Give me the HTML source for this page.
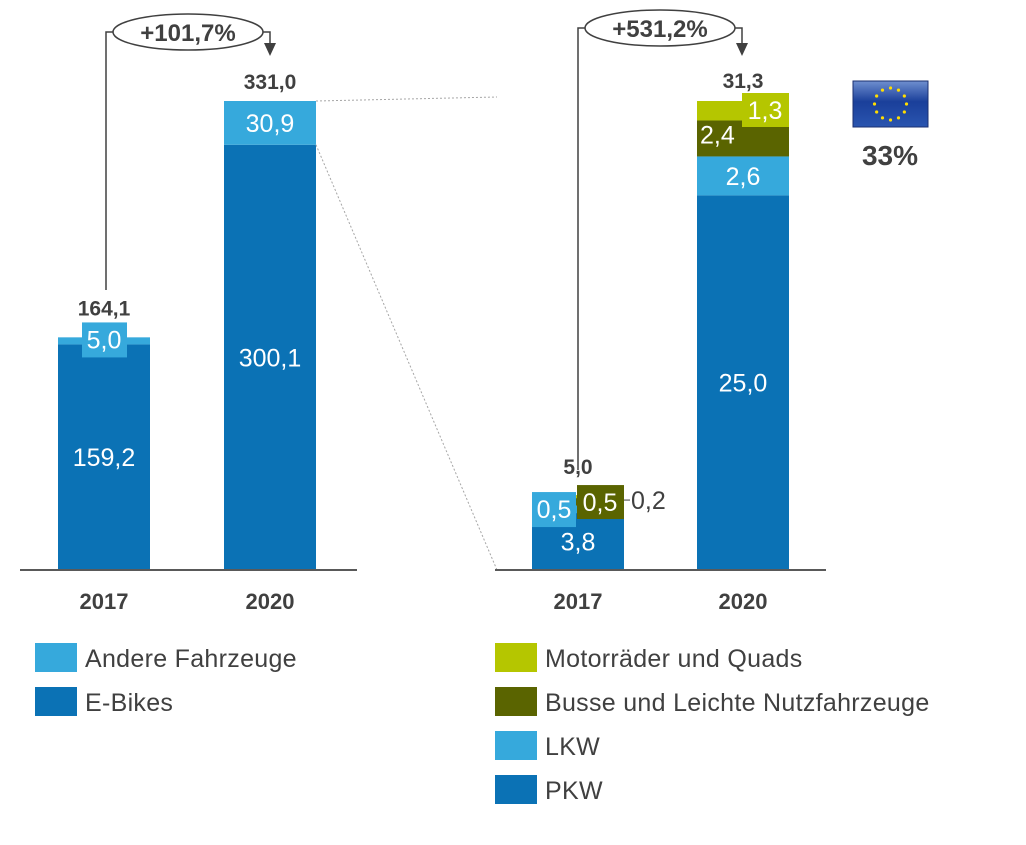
<!DOCTYPE html>
<html><head><meta charset="utf-8"><style>
body{margin:0;background:#fff;}
svg text{font-family:"Liberation Sans",sans-serif;}
</style></head><body>
<svg width="1026" height="840" xmlns="http://www.w3.org/2000/svg">
<defs>
<linearGradient id="flag" x1="0" y1="0" x2="0" y2="1"><stop offset="0" stop-color="#6f8fcf"/><stop offset="0.45" stop-color="#1a3f9a"/><stop offset="1" stop-color="#2a55b0"/></linearGradient>
</defs>
<g id="root"></g>
</svg>
<script>
const leftCats=['2017','2020'];
const leftEbikes=[159.2,300.1];
const leftOther=[5.0,30.9];
const leftTotals=['164,1','331,0'];
const rightCats=['2017','2020'];
const rightPKW=[3.8,25.0];
const rightLKW=[0.5,2.6];
const rightBusse=[0.5,2.4];
const rightMotor=[0.2,1.3];
const rightTotals=['5,0','31,3'];
const NS='http://www.w3.org/2000/svg';
const root=document.getElementById('root');
function mk(tag,attrs,parent){const e=document.createElementNS(NS,tag);for(const k in attrs)e.setAttribute(k,attrs[k]);(parent||root).appendChild(e);return e;}
function txt(s,x,y,size,fill,weight,anchor,name){const t=mk('text',{x:x,y:y,'font-size':size,fill:fill,'font-weight':weight||'normal','text-anchor':anchor||'middle'});t.textContent=s;


return t;}
const fmt=v=>v.toFixed(1).replace('.',',');
const C={eb:'#0b72b5',lb:'#36a9dc',ol:'#5a6400',yg:'#b5c600',tx:'#404040'};
const VS=25, TS=21, CS=22;
const base=570;
// left chart
const lMax=331.0, lScale=469/lMax;
const ly=v=>base-v*lScale;
const lX=[58,224], bw=92;
leftCats.forEach((c,i)=>{
 const x=lX[i];
 let r=mk('rect',{x:x,y:ly(leftEbikes[i]),width:bw,height:base-ly(leftEbikes[i]),fill:C.eb});
 
 
 const top=leftEbikes[i]+leftOther[i];
 r=mk('rect',{x:x,y:ly(top),width:bw,height:ly(leftEbikes[i])-ly(top),fill:C.lb});
 
 
 const segH=ly(leftEbikes[i])-ly(top);
 let totOff=12;
 if(segH<30){const b=mk('rect',{x:x+24,y:ly(leftEbikes[i])-22,width:45,height:35,fill:C.lb});
  
  
  txt(fmt(leftOther[i]),x+bw/2,ly(leftEbikes[i])+4,VS,'#fff','normal','middle','value-other-'+c);
  totOff=22;
 } else txt(fmt(leftOther[i]),x+bw/2,(ly(top)+ly(leftEbikes[i]))/2+9,VS,'#fff','normal','middle','value-other-'+c);
 txt(fmt(leftEbikes[i]),x+bw/2,(ly(leftEbikes[i])+base)/2+9,VS,'#fff','normal','middle','value-ebikes-'+c);
 txt(leftTotals[i],x+bw/2,ly(top)-totOff,TS,C.tx,'bold','middle','total-'+c);
 txt(c,x+bw/2,609,CS,C.tx,'bold','middle','category-'+c);
});
let a=mk('line',{x1:20,y1:base,x2:357,y2:base,stroke:'#595959','stroke-width':2});


mk('line',{x1:316,y1:ly(lMax),x2:497,y2:97,stroke:'#a6a6a6','stroke-width':1,'stroke-dasharray':'2,2'});
mk('line',{x1:316,y1:ly(leftEbikes[1]),x2:497,y2:570,stroke:'#a6a6a6','stroke-width':1,'stroke-dasharray':'2,2'});
// right chart
const rMax=31.3, rScale=469/rMax;
const ry=v=>base-v*rScale;
const rX=[532,697];
rightCats.forEach((c,i)=>{
 const x=rX[i];
 const segs=[[rightPKW[i],C.eb,'pkw'],[rightLKW[i],C.lb,'lkw'],[rightBusse[i],C.ol,'busse'],[rightMotor[i],C.yg,'motor']];
 let acc=0;const tops=[];
 segs.forEach(s=>{const y0=ry(acc),y1=ry(acc+s[0]);
  const r=mk('rect',{x:x,y:y1,width:bw,height:y0-y1,fill:s[1]});
  
  
  tops.push([y0,y1]);acc+=s[0];});
 txt(fmt(rightPKW[i]),x+bw/2,(tops[0][0]+tops[0][1])/2+9,VS,'#fff','normal','middle','value-pkw-'+c);
 if(i===0){
  const b1=mk('rect',{x:x,y:tops[0][1]-21,width:44,height:35,fill:C.lb});
  
  
  txt(fmt(rightLKW[i]),x+22,tops[0][1]+5,VS,'#fff','normal','middle','value-lkw-'+c);
  const b2=mk('rect',{x:x+45,y:tops[0][1]-28,width:47,height:34,fill:C.ol});
  
  
  txt(fmt(rightBusse[i]),x+68,tops[0][1]-2,VS,'#fff','normal','middle','value-busse-'+c);
  mk('line',{x1:x+bw,y1:tops[0][1]-13,x2:x+bw+6,y2:tops[0][1]-13,stroke:C.tx,'stroke-width':1});
  txt(fmt(rightMotor[i]),x+bw+7,tops[0][1]-4,VS,C.tx,'normal','start','value-motor-'+c);
 } else {
  txt(fmt(rightLKW[i]),x+bw/2,(tops[1][0]+tops[1][1])/2+9,VS,'#fff','normal','middle','value-lkw-'+c);
  txt(fmt(rightBusse[i]),x+3,(tops[2][0]+tops[2][1])/2+5,VS,'#fff','normal','start','value-busse-'+c);
  const b=mk('rect',{x:x+45,y:tops[3][1]-8,width:47,height:34,fill:C.yg});
  
  
  txt(fmt(rightMotor[i]),x+68,tops[3][1]+18,VS,'#fff','normal','middle','value-motor-'+c);
 }
 txt(rightTotals[i],x+bw/2,ry(acc)-(i===0?21:13),TS,C.tx,'bold','middle','right-total-'+c);
 txt(c,x+bw/2,609,CS,C.tx,'bold','middle','right-category-'+c);
});
a=mk('line',{x1:495,y1:base,x2:826,y2:base,stroke:'#595959','stroke-width':2});


function growth(xl,yTopL,cx,cy,xr,label,name){
 mk('path',{d:`M${xl},${yTopL} V${cy} H${cx-75}`,fill:'none',stroke:C.tx,'stroke-width':1.5});
 mk('path',{d:`M${cx+75},${cy} H${xr} V44`,fill:'none',stroke:C.tx,'stroke-width':1.5});
 mk('path',{d:`M${xr-6},43 L${xr+6},43 L${xr},56 Z`,fill:C.tx});
 const e=mk('ellipse',{cx:cx,cy:cy,rx:75,ry:18,fill:'#fff',stroke:C.tx,'stroke-width':1.5});
 
 
 txt(label,cx,cy+9,24,C.tx,'bold','middle',name+'-label');
}
growth(106,290,188,32,270,'+101,7%','growth-left');
growth(578,470,660,28,742,'+531,2%','growth-right');
const f=mk('rect',{x:853,y:81,width:75,height:46,fill:'url(#flag)',stroke:'#1a2f70','stroke-width':1});


for(let k=0;k<12;k++){const ang=k*Math.PI/6;mk('circle',{cx:890.5+16*Math.sin(ang),cy:104-16*Math.cos(ang),r:1.6,fill:'#ffdd00'});}
txt('33%',890,165,28,C.tx,'bold','middle','eu-share');
function leg(x,y,color,label,name){const r=mk('rect',{x:x,y:y,width:42,height:29,fill:color});
 
 
 const t=txt(label,x+50,y+24,25,C.tx,'normal','start',name+'-label');
 t.setAttribute('letter-spacing','0.3');}
leg(35,643,C.lb,'Andere Fahrzeuge','legend-andere');
leg(35,687,C.eb,'E-Bikes','legend-ebikes');
leg(495,643,C.yg,'Motorräder und Quads','legend-motor');
leg(495,687,C.ol,'Busse und Leichte Nutzfahrzeuge','legend-busse');
leg(495,731,C.lb,'LKW','legend-lkw');
leg(495,775,C.eb,'PKW','legend-pkw');
</script>
</body></html>
